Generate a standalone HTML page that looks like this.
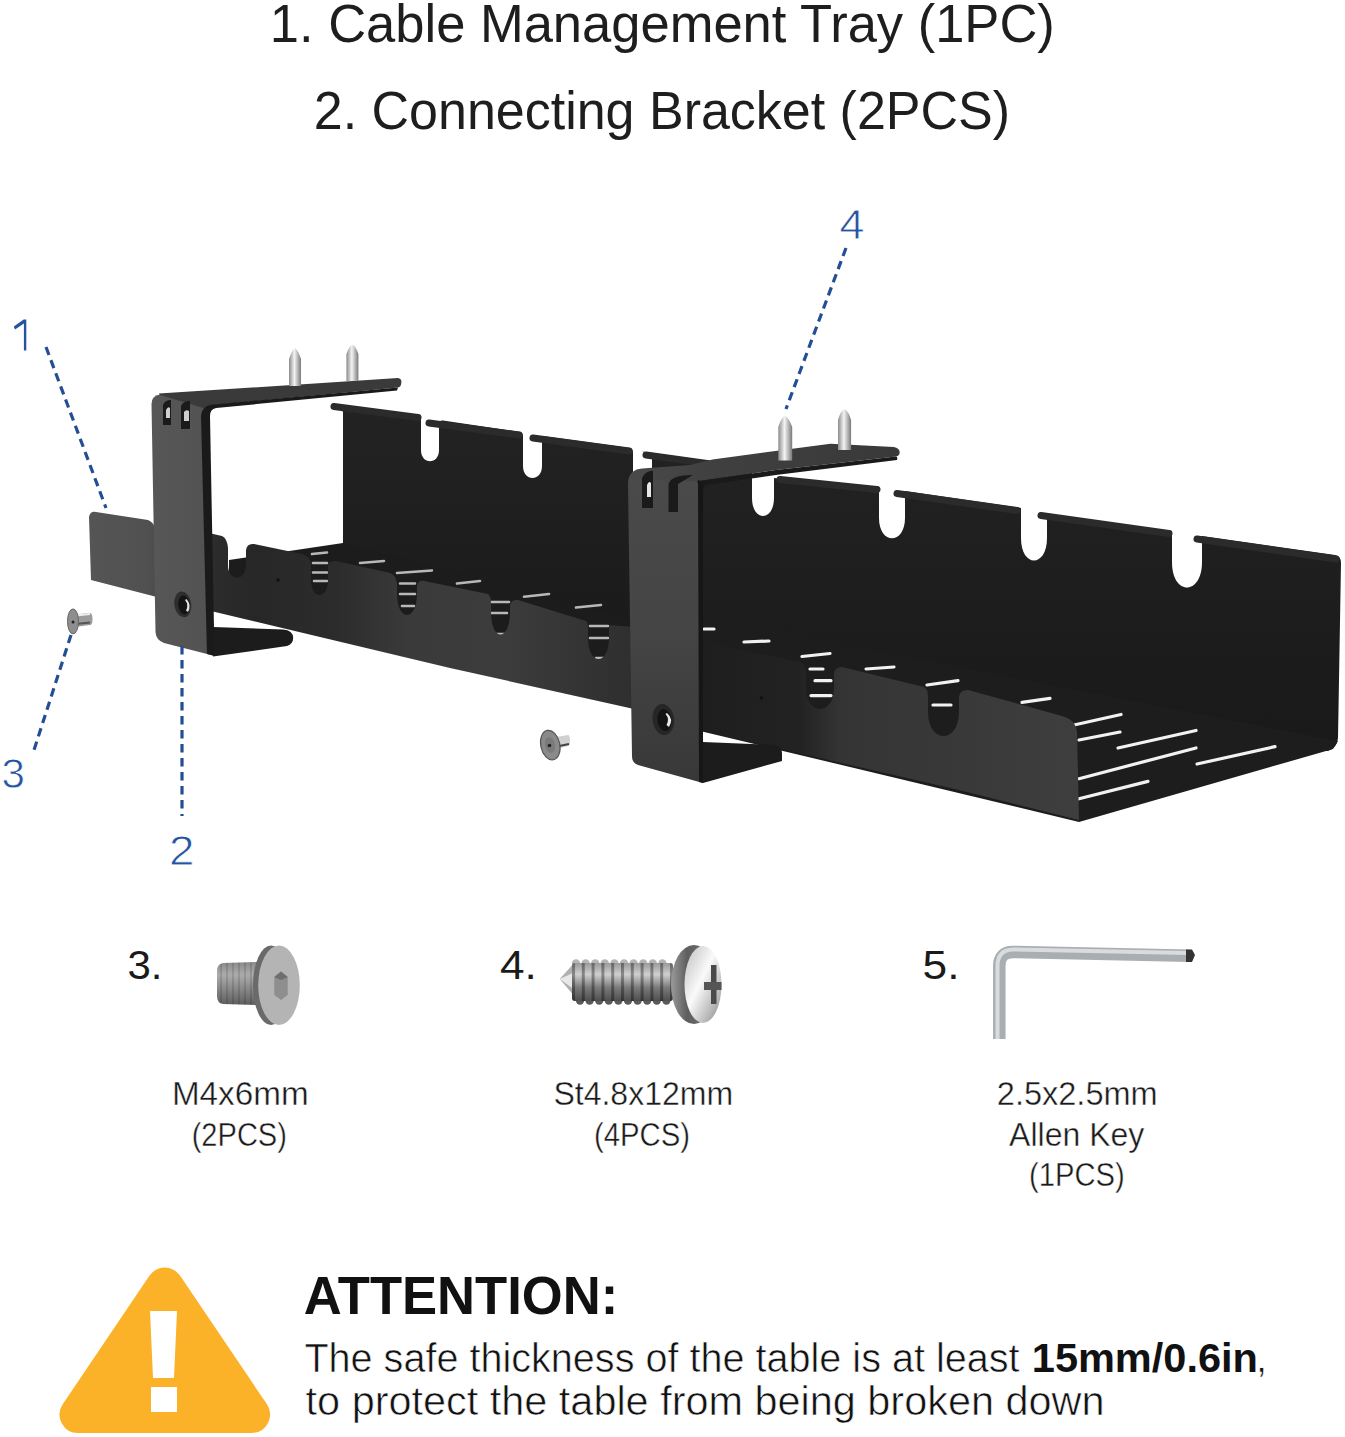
<!DOCTYPE html>
<html><head><meta charset="utf-8">
<style>
html,body{margin:0;padding:0;background:#fff;width:1345px;height:1437px;overflow:hidden}
svg{display:block}
text{font-family:"Liberation Sans",sans-serif}
</style></head><body>
<svg width="1345" height="1437" viewBox="0 0 1345 1437">
<defs>
<linearGradient id="pin" x1="0" x2="1" y1="0" y2="0">
<stop offset="0" stop-color="#8a8a8a"/><stop offset="0.45" stop-color="#f4f4f4"/><stop offset="1" stop-color="#7a7a7a"/>
</linearGradient>
</defs>
<rect width="1345" height="1437" fill="#fff"/>

<!-- TITLES -->
<g id="titles" fill="#1e1e1e" font-size="54">
<text id="t1" x="269.8" textLength="785.0" lengthAdjust="spacingAndGlyphs" y="42">1. Cable Management Tray (1PC)</text>
<text id="t2" x="313.8" textLength="696.2" lengthAdjust="spacingAndGlyphs" y="129">2. Connecting Bracket (2PCS)</text>
</g>

<!-- TRAY -->
<g id="tray">
<defs>
<linearGradient id="bwL" x1="0" y1="0" x2="0" y2="1"><stop offset="0" stop-color="#232323"/><stop offset="1" stop-color="#1a1a1a"/></linearGradient>
<linearGradient id="bwR" x1="0" y1="0" x2="0" y2="1"><stop offset="0" stop-color="#222"/><stop offset="1" stop-color="#191919"/></linearGradient>
<linearGradient id="fwL" gradientUnits="userSpaceOnUse" x1="89" y1="0" x2="640" y2="0">
<stop offset="0" stop-color="#555"/><stop offset="0.11" stop-color="#505050"/><stop offset="0.2" stop-color="#2e2e2e"/><stop offset="0.3" stop-color="#272727"/><stop offset="0.45" stop-color="#2c2c2c"/><stop offset="0.58" stop-color="#3a3a3a"/><stop offset="0.75" stop-color="#3c3c3c"/><stop offset="1" stop-color="#2e2e2e"/></linearGradient>
<linearGradient id="fwR" gradientUnits="userSpaceOnUse" x1="700" y1="0" x2="1080" y2="0">
<stop offset="0" stop-color="#1e1e1e"/><stop offset="0.26" stop-color="#222"/><stop offset="0.37" stop-color="#343434"/><stop offset="1" stop-color="#3e3e3e"/></linearGradient>
<linearGradient id="plL" x1="0" y1="0" x2="1" y2="0"><stop offset="0" stop-color="#575757"/><stop offset="1" stop-color="#525252"/></linearGradient>
<linearGradient id="armR" gradientUnits="userSpaceOnUse" x1="630" y1="0" x2="900" y2="0"><stop offset="0" stop-color="#4a4a4a"/><stop offset="0.3" stop-color="#404040"/><stop offset="1" stop-color="#393939"/></linearGradient>
<linearGradient id="plR" x1="0" y1="0" x2="0" y2="1"><stop offset="0" stop-color="#4a4a4a"/><stop offset="0.5" stop-color="#454545"/><stop offset="1" stop-color="#383838"/></linearGradient>
</defs>
<!-- LEFT SECTION back wall -->
<path d="M331,404 L419,415 Q421,416 421,420 L421,450 C421,465 439,465 439,450 L439,423 Q439,420 443,420.5 L521,432 Q523,433 523,436 L523,466 C523,482 542,482 542,466 L542,439 Q542,436 546,436.5 L630,448 Q633,448.5 633,453 L633,640 L343,560 L343,412 Q342,409 336,407.5 Z" fill="url(#bwL)"/>
<!-- left floor -->
<path d="M229,560 L343,543 L633,620 L633,700 L229,610 Z" fill="#1c1c1c"/>
<g stroke="#b8b8b8" stroke-width="2.6" stroke-linecap="round">
<path d="M312,554 L327,552.5 M313,563 L327,563 M313,572.5 L327,572.5 M314,581 L327,581 M360,563 L384,561 M397,573 L432,570.5 M400,583.5 L415,583.5 M400,594 L415,594 M402,606 L414,606 M457,583.5 L480,581 M491,602 L509,602 M491,613 L507,613 M494,634 L507,634 M524,596.8 L549,594 M576,607.5 L601,605 M590,626 L608,626 M590,638 L608,638 M596,658 L606,658"/>
</g>
<!-- left front wall -->
<path d="M89,517 Q90,511 96,512 L148,520 Q154,522 155,530 L160,545 L205,540 L211,533.5 L222,536 Q227,538 228,548 L228,565 C228,582 246,582 246,565 L246,550 Q247,543 254,544 L302,554 Q310,556 311,564 L311,580 C311,600 328,600 328,580 L328,566 Q329,561 336,561 L390,573 Q396,575 397,584 L397,594 C397,622 417,622 417,594 L417,586 Q418,580 424,581 L488,594 Q491,596 491,604 L491,612 C491,642 510,642 510,612 L510,606 Q511,599 518,600 L586,621 Q588,623 588,630 L588,638 C588,666 609,666 609,638 L609,625 L634,627 L634,709 L450,668 L213,611.5 L91,580 Z" fill="url(#fwL)"/>
<circle cx="278" cy="580" r="1.8" fill="#111"/>
<!-- RIGHT SECTION back wall -->
<path d="M642,451.5 L752,467 L752,498 C752,522 774,522 774,498 L774,478 L879,488 L879,518 C879,545 905,545 905,518 L905,491 L1021,508 L1021,538 C1021,568 1047,568 1047,538 L1047,514 L1172,531 L1172,562 C1172,596 1202,596 1202,562 L1202,536 L1335,555 Q1341,556 1341,563 L1338,738 Q1337,748 1328,751 L700,690 L652,640 L652,456 Z" fill="url(#bwR)"/>
<!-- lips -->
<g stroke="#2b2b2b" stroke-width="7" stroke-linecap="round" fill="none">
<path d="M334,406.5 L418,417.5 M429,423 L519,435 M533,438 L629,451"/>
<path d="M646,455 L750,469.5 M780,479.5 L877,489.5 M897,493.5 L1017,510.5 M1041,515.5 L1169,533.5 M1197,539 L1336,559"/>
</g>
<!-- right floor -->
<path d="M700,614 L1000,675 L1338,741 L1333,749 L1079,822 L700,731 Z" fill="#1d1d1d"/>
<g stroke="#f2f2f2" stroke-width="3.2" stroke-linecap="round">
<path d="M704,629 L714,629 M744,642 L769,641 M704,652.5 L717,652.5 M704,665 L716,665 M802,656.5 L830,653.5 M810,669 L823,669 M815,680.7 L831,680.7 M811,695.6 L831,695.6 M821,710.6 L827,710.6 M866,669 L894,667 M927,685 L958,680.7 M933,705 L951,705 M945,738 L951,738 M1022,702.4 L1050,698.4 M1074,725 L1121,714.5 M1079,740 L1120,732 M1118,748 L1196,730.5 M1079,778.7 L1196,748 M1079,798.8 L1148,781.4 M1197,764 L1275,746.6"/>
</g>
<!-- right front wall -->
<path d="M700,640 L714,641 Q720,642 722,646 L800,662 Q805,664 806,672 L806,688 C806,716 834,716 834,688 L834,673 Q835,667 842,667 L924,687 Q928,689 928,697 L928,712 C928,744 959,744 959,712 L959,697 Q960,690 968,690 L1062,716 Q1076,720 1077,732 L1079,820 L959,790 L703,731 Z" fill="url(#fwR)"/>
<circle cx="761.4" cy="698" r="1.8" fill="#111"/>
<!-- LEFT BRACKET -->
<path d="M213,627 L283,629.6 Q293,630.5 293.2,638 Q293,644 287,646 L213,656.5 Z" fill="#1c1c1c"/>
<path d="M151.5,404 Q151.5,395.7 160,394.5 L206.8,407 L213,655.6 L164,643 Q156,640 155.5,632 Z" fill="url(#plL)"/>
<path d="M158.8,393.6 L398,378 Q402,378.5 401.3,383 Q401,387 398,387.5 L215,405 Q208,406 207,412 L206.8,409 L160,395 Z" fill="#3a3a3a"/>
<path d="M201,416 Q202,405 214,404.5 L398,387.5 L397,390.5 L216,408 Q210,409 210,416 L214.5,655 L213,655.6 L207,654 Z" fill="#1a1a1a"/>
<path d="M163,425 L163,405 Q165,400 171,400 L171,425 Z M181,429 L181,406 Q183,401 190,401 L190,429 Z" fill="#1a1a1a"/>
<path d="M166,418 L166,410 Q168,406 170,408 L170,418 Z M184,421 L184,412 Q186,409 189,411 L189,421 Z" fill="#cfcfcf"/>
<ellipse cx="182.8" cy="604.4" rx="8.5" ry="13" fill="#2e2e2e" transform="rotate(-8 182.8 604.4)"/>
<ellipse cx="184" cy="605" rx="5.8" ry="9.5" fill="#141414" transform="rotate(-8 184 605)"/>
<path d="M186.5,599 Q192,605 188,612 L186,610.5 Q189,605 185,600 Z" fill="#e0e0e0"/>
<!-- RIGHT BRACKET -->
<path d="M703,742 L772,744.8 Q782,746 782,753 L782,761 L703,783 Z" fill="#1c1c1c"/>
<path d="M628,484 Q628,472 638,471 L694,476 Q703,478 703,490 L703,783 L638,765 Q632,763 632,756 Z" fill="url(#plR)"/>
<path d="M628.5,480 Q630,469.5 642,468.5 L690,465 L712.5,459.5 L830.5,443.7 L893.7,447 Q899.7,448 899.7,452.5 Q899.5,456 896,456.5 L775.8,470 L697,481.3 Z" fill="url(#armR)"/>
<path d="M697,481.3 L775.8,470 L896,456.5 Q898,457 897,460 L775.8,475 L706,485 Q703,487 703,492 Z" fill="#1a1a1a"/>
<path d="M698,480 Q703,481 703,490 L703,783 L699,782 Z" fill="#161616"/>
<path d="M642,508 L642,478 Q645,471 653,470.7 L653,508 Z M668.5,512 L668.5,484 Q671,475 693,475 L678,484 L678,512 Z" fill="#1a1a1a"/>
<path d="M647,497 L647,485 Q649,480 651,483 L651,497 Z" fill="#e6e6e6"/>
<ellipse cx="663.3" cy="719.5" rx="10.7" ry="15.5" fill="#262626" transform="rotate(-8 663.3 719.5)"/>
<ellipse cx="664.5" cy="720" rx="7" ry="11" fill="#121212" transform="rotate(-8 664.5 720)"/>
<path d="M667,713 Q674,719 669,727 L666.5,725 Q670,719 665.5,714 Z" fill="#e8e8e8"/>
<!-- PINS -->
<path d="M289,386 L289,359 Q292,350 295,348 Q298,350 301,359 L301,386 Z" fill="url(#pin)"/>
<path d="M346.4,381 L346.4,354 Q349,346 352.4,344.7 Q355.8,346 358.4,354 L358.4,381 Z" fill="url(#pin)"/>
<path d="M778.3,460.5 L778.3,427 Q781,418 785,415.5 Q789,418 792.2,427 L792.2,460.5 Z" fill="url(#pin)"/>
<path d="M838,450 L838,420 Q840.5,411 844.5,409 Q848.5,411 851.1,420 L851.1,450 Z" fill="url(#pin)"/>
<!-- screws -->
<path d="M75,614.5 L90,613 Q92.5,613 92.5,619 Q92.5,625 90,625 L75,627 Z" fill="#9c9c9c"/>
<path d="M76,615.5 L90,614" stroke="#eee" stroke-width="2"/>
<path d="M76,624 L90,622.5" stroke="#555" stroke-width="2"/>
<ellipse cx="73" cy="621.4" rx="5.5" ry="12.5" fill="#8e8e8e"/>
<ellipse cx="73" cy="621.4" rx="5.5" ry="12.5" fill="none" stroke="#666" stroke-width="1"/>
<circle cx="73" cy="622" r="1.5" fill="#222"/>
<path d="M556,737 L568,735 Q570,735 570,740.5 Q570,746 568,746 L556,749 Z" fill="#d0d0d0"/>
<path d="M557,746.5 L569,744" stroke="#444" stroke-width="2.2"/>
<ellipse cx="550.3" cy="745.1" rx="9.5" ry="15" fill="#8a8a8a" stroke="#555" stroke-width="1.2" transform="rotate(-12 550.3 745.1)"/>
<ellipse cx="550" cy="745" rx="5" ry="8" fill="#7a7a7a" transform="rotate(-12 550 745)"/>
<circle cx="549.5" cy="745.5" r="1.8" fill="#222"/>
</g>
<!-- LABELS -->
<g id="labels" fill="#2653a0" font-size="43" stroke="#fff" stroke-width="0.8">
<path id="lab1" stroke="none" d="M13.8,326.5 L23.7,319.5 L26.3,319.5 L26.3,350.5 L23.9,350.5 L23.9,323.6 L15,329.5 Z"/>
<text id="lab3" x="1.4" textLength="23.4" lengthAdjust="spacingAndGlyphs" y="788">3</text>
<text id="lab2" x="169.0" textLength="25.4" lengthAdjust="spacingAndGlyphs" y="865">2</text>
<text id="lab4" x="839.4" textLength="25.0" lengthAdjust="spacingAndGlyphs" y="239">4</text>
<g stroke="#234e96" stroke-width="3.2" stroke-dasharray="8.5,5.5" fill="none">
<path d="M46,347 L106,508"/>
<path d="M71,635 L34,750"/>
<path d="M182,646 L182,816"/>
<path d="M846,248 L786,409"/>
</g>
</g>

<!-- PARTS -->
<g id="parts">
<defs>
<linearGradient id="shaft3" x1="0" x2="0" y1="0" y2="1">
<stop offset="0" stop-color="#8a8a8a"/><stop offset="0.3" stop-color="#acacac"/><stop offset="1" stop-color="#5e5e5e"/>
</linearGradient>
<linearGradient id="shaft4" x1="0" x2="0" y1="0" y2="1">
<stop offset="0" stop-color="#9a9a9a"/><stop offset="0.3" stop-color="#cfcfcf"/><stop offset="0.65" stop-color="#7a7a7a"/><stop offset="1" stop-color="#4e4e4e"/>
</linearGradient>
<linearGradient id="head4" x1="0" x2="1" y1="0" y2="1">
<stop offset="0" stop-color="#bdbdbd"/><stop offset="0.45" stop-color="#fafafa"/><stop offset="1" stop-color="#8a8a8a"/>
</linearGradient>
<linearGradient id="rim4" x1="0" x2="1" y1="0" y2="0">
<stop offset="0" stop-color="#9a9a9a"/><stop offset="0.35" stop-color="#5e5e5e"/><stop offset="1" stop-color="#777"/>
</linearGradient>
<linearGradient id="key" x1="0" x2="0" y1="0" y2="1">
<stop offset="0" stop-color="#9aa0a4"/><stop offset="0.4" stop-color="#d6dadc"/><stop offset="1" stop-color="#8a9094"/>
</linearGradient>
<pattern id="thr" width="9.8" height="60" patternUnits="userSpaceOnUse" x="572" y="0">
<rect width="9.8" height="60" fill="none"/><rect x="0" width="3" height="60" fill="#000" fill-opacity="0.35"/>
</pattern>
<pattern id="thr3" width="6" height="60" patternUnits="userSpaceOnUse" x="220" y="0">
<rect x="0" width="2" height="60" fill="#000" fill-opacity="0.12"/>
</pattern>
</defs>
<!-- screw 3 -->
<path d="M223,963 L257,962 L257,1005 L223,1004 Q217,1003 217,996 L217,971 Q217,964 223,963 Z" fill="url(#shaft3)"/>
<path d="M223,963 L257,962 L257,1005 L223,1004 Q217,1003 217,996 L217,971 Q217,964 223,963 Z" fill="url(#thr3)"/>
<ellipse cx="271" cy="985.2" rx="18" ry="39.7" fill="#6a6a6a"/>
<ellipse cx="279" cy="985.2" rx="20.8" ry="39.7" fill="#b4b4b4"/>
<path d="M281,971.5 L287.7,977 L287.7,995 L281,1000 L274.3,995 L274.3,977 Z" fill="#8e8e8e"/>
<path d="M274.3,977 L281,971.5 L287.7,977 L281,980 Z" fill="#6e6e6e"/>
<!-- screw 4 -->
<path d="M559.7,979 L575,962 L575,997 Z" fill="#b0b0b0"/>
<path d="M559.7,979 L575,972 L575,990 Z" fill="#e8e8e8"/>
<circle cx="576.0" cy="963.5" r="4.2" fill="#b5b5b5"/><circle cx="580.0" cy="1000.5" r="4.2" fill="#5a5a5a"/><circle cx="585.6" cy="963.5" r="4.2" fill="#b5b5b5"/><circle cx="589.6" cy="1000.5" r="4.2" fill="#5a5a5a"/><circle cx="595.2" cy="963.5" r="4.2" fill="#b5b5b5"/><circle cx="599.2" cy="1000.5" r="4.2" fill="#5a5a5a"/><circle cx="604.8" cy="963.5" r="4.2" fill="#b5b5b5"/><circle cx="608.8" cy="1000.5" r="4.2" fill="#5a5a5a"/><circle cx="614.4" cy="963.5" r="4.2" fill="#b5b5b5"/><circle cx="618.4" cy="1000.5" r="4.2" fill="#5a5a5a"/><circle cx="624.0" cy="963.5" r="4.2" fill="#b5b5b5"/><circle cx="628.0" cy="1000.5" r="4.2" fill="#5a5a5a"/><circle cx="633.6" cy="963.5" r="4.2" fill="#b5b5b5"/><circle cx="637.6" cy="1000.5" r="4.2" fill="#5a5a5a"/><circle cx="643.2" cy="963.5" r="4.2" fill="#b5b5b5"/><circle cx="647.2" cy="1000.5" r="4.2" fill="#5a5a5a"/><circle cx="652.8" cy="963.5" r="4.2" fill="#b5b5b5"/><circle cx="656.8" cy="1000.5" r="4.2" fill="#5a5a5a"/><circle cx="662.4" cy="963.5" r="4.2" fill="#b5b5b5"/><circle cx="666.4" cy="1000.5" r="4.2" fill="#5a5a5a"/>
<rect x="572" y="963" width="101" height="38" rx="3" fill="url(#shaft4)"/>
<rect x="572" y="963" width="101" height="38" rx="3" fill="url(#thr)"/>
<ellipse cx="694" cy="984.5" rx="23" ry="39.5" fill="url(#rim4)"/>
<ellipse cx="703" cy="984.5" rx="18.5" ry="38.5" fill="url(#head4)"/>
<rect x="711" y="965" width="5.5" height="39" fill="#4a4a4a"/>
<rect x="704" y="982" width="17.5" height="8" fill="#555"/>
<!-- allen key -->
<path d="M999.3,1039 L999.3,966 Q999.3,952 1013,952 L1189,955.8" stroke="url(#key)" stroke-width="0" fill="none"/>
<path d="M999.3,1039 L999.3,966 Q999.3,952 1013,952 L1189,955.8" stroke="#a9aeb1" stroke-width="12.5" fill="none"/>
<path d="M997.5,1039 L997.5,966 Q997.5,950 1013,949.5 L1189,953" stroke="#d9dcde" stroke-width="4" fill="none"/>
<path d="M1186,949.5 L1192,949.5 L1195,955 L1192,962 L1186,962 Z" fill="#333"/>
</g>

<!-- PART TEXT -->
<g id="ptext" fill="#1a1a1a">
<text id="p3" x="127.4" textLength="35.0" lengthAdjust="spacingAndGlyphs" y="979" font-size="40">3.</text>
<text id="p4" x="500.0" textLength="36.8" lengthAdjust="spacingAndGlyphs" y="979" font-size="40">4.</text>
<text id="p5" x="922.6" textLength="36.9" lengthAdjust="spacingAndGlyphs" y="979" font-size="40">5.</text>
<g font-size="33" stroke="#fff" stroke-width="0.4">
<text id="m4" x="171.9" textLength="136.7" lengthAdjust="spacingAndGlyphs" y="1105">M4x6mm</text>
<text id="m4b" x="191.7" textLength="95.2" lengthAdjust="spacingAndGlyphs" y="1146">(2PCS)</text>
<text id="st" x="553.4" textLength="179.8" lengthAdjust="spacingAndGlyphs" y="1105">St4.8x12mm</text>
<text id="stb" x="594.0" textLength="96.1" lengthAdjust="spacingAndGlyphs" y="1146">(4PCS)</text>
<text id="k1" x="996.8" textLength="160.9" lengthAdjust="spacingAndGlyphs" y="1105">2.5x2.5mm</text>
<text id="k2" x="1009.1" textLength="135.2" lengthAdjust="spacingAndGlyphs" y="1146">Allen Key</text>
<text id="k3" x="1029.0" textLength="95.6" lengthAdjust="spacingAndGlyphs" y="1186">(1PCS)</text>
</g>
</g>

<!-- ATTENTION -->
<g id="attn">
<path d="M180.0,1275.6 L266.8,1404.1 A18.5,18.5 0 0 1 251.5,1433.0 L78.0,1433.0 A18.5,18.5 0 0 1 62.7,1404.2 L149.4,1275.7 A18.5,18.5 0 0 1 180.0,1275.6 Z" fill="#fbb128"/>
<path d="M150,1311 L177,1311 L174,1378 L153,1378 Z" fill="#fff"/>
<rect x="151" y="1387" width="26" height="25" fill="#fff"/>
<text id="att" x="303.7" textLength="314.5" lengthAdjust="spacingAndGlyphs" y="1314" font-size="53" font-weight="bold" fill="#111">ATTENTION:</text>
<g font-size="40" fill="#111">
<text stroke="#fff" stroke-width="0.6" id="l1a" x="304.4" textLength="715.2" lengthAdjust="spacingAndGlyphs" y="1372">The safe thickness of the table is at least</text>
<text id="l1b" x="1031.8" textLength="226.1" lengthAdjust="spacingAndGlyphs" y="1372" font-weight="bold">15mm/0.6in</text>
<text stroke="#fff" stroke-width="0.6" id="l1c" x="1256" y="1372">,</text>
<text stroke="#fff" stroke-width="0.6" id="l2" x="305.6" textLength="798.9" lengthAdjust="spacingAndGlyphs" y="1415">to protect the table from being broken down</text>
</g>
</g>
</svg>
</body></html>
